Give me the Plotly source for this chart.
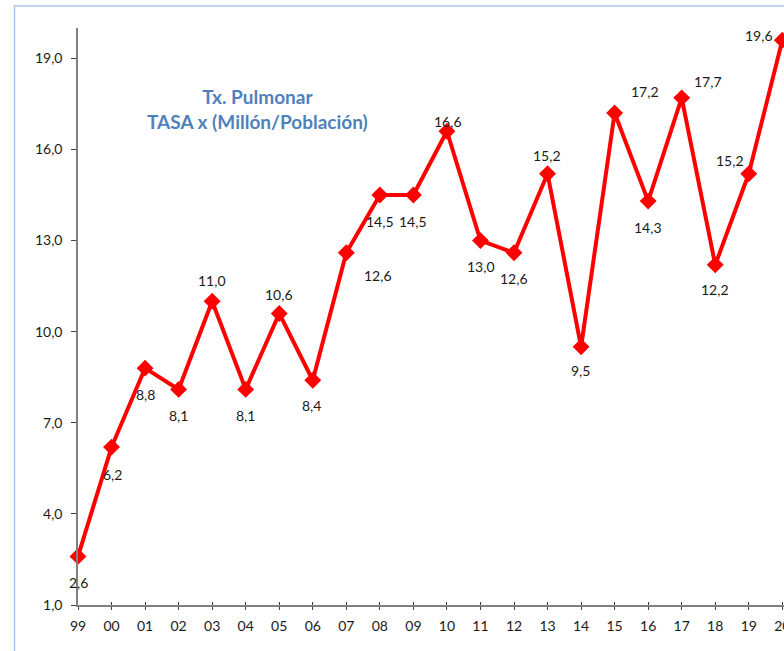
import plotly.graph_objects as go

# ---- data ----
years = ["99", "00", "01", "02", "03", "04", "05", "06", "07", "08", "09",
         "10", "11", "12", "13", "14", "15", "16", "17", "18", "19", "20"]
tasa = [2.6, 6.2, 8.8, 8.1, 11.0, 8.1, 10.6, 8.4, 12.6, 14.5, 14.5,
        16.6, 13.0, 12.6, 15.2, 9.5, 17.2, 14.3, 17.7, 12.2, 15.2, 19.6]
y_ticks = [1, 4, 7, 10, 13, 16, 19]
title_lines = ["Tx. Pulmonar", "TASA x (Millón/Población)"]

# label offsets in pixels (dx right, dy down) -- styling only
label_dx = [0, 1, 0, 0, 0, 0, 0, -1, 32, 0, 0, 1, 1, 0, -1, -1, 30, 0, 26, 0, -19, -23]
label_dy = [26, 27, 26, 26, -21, 26, -19, 25, 23, 26, 26, -10, 26, 26, -18, 24, -22, 26, -16, 25, -13, -5]

idx = list(range(len(years)))
FONT = "Lato"

fig = go.Figure()
fig.add_trace(go.Scatter(
    x=idx, y=tasa, mode="lines+markers",
    line=dict(color="#FF0000", width=4),
    marker=dict(symbol="diamond", size=13, color="#FF0000"),
    cliponaxis=False, hoverinfo="skip", showlegend=False,
))

for i, v in enumerate(tasa):
    fig.add_annotation(
        x=idx[i], y=v, xref="x", yref="y",
        text=f"{v:.1f}".replace(".", ","), showarrow=False,
        xshift=label_dx[i], yshift=-label_dy[i],
        font=dict(family=FONT, size=14, color="#1a1a1a"),
    )

fig.add_annotation(
    x=(257 - 78) / 706, y=(605 - 109) / 577, xref="paper", yref="paper",
    xanchor="center", yanchor="middle",
    text="<b>" + title_lines[0] + "</b><br><b>" + title_lines[1] + "</b>",
    showarrow=False, align="center",
    font=dict(family=FONT, size=19, color="#4F81BD"),
)

# outer light-blue frame
fig.add_shape(
    type="rect", xref="paper", yref="paper",
    x0=(14.5 - 78) / 706, x1=(820 - 78) / 706,
    y0=(605 - 700) / 577, y1=(605 - 6) / 577,
    line=dict(color="#A6CAEC", width=1.5), fillcolor="rgba(0,0,0,0)", layer="below",
)

fig.update_layout(
    width=784, height=651,
    margin=dict(l=78, r=0, t=28, b=46, autoexpand=False),
    paper_bgcolor="white", plot_bgcolor="white",
    separators=",.",
    font=dict(family=FONT, size=14, color="#1a1a1a"),
    xaxis=dict(
        range=[0, 21.05], tickmode="array", tickvals=idx, ticktext=years,
        showgrid=False, zeroline=False, showline=True, automargin=False,
        linecolor="#808080", linewidth=1.5,
        ticks="outside", ticklen=3, tickcolor="#404040", tickwidth=1,
        ticklabelstandoff=4, ticklabeloverflow="allow",
        tickfont=dict(family=FONT, size=14, color="#1a1a1a"),
    ),
    xaxis2=dict(
        overlaying="x", matches="x", anchor="y", range=[0, 21.05],
        tickmode="array", tickvals=idx, showticklabels=False, automargin=False,
        ticks="inside", ticklen=3, tickcolor="#404040", tickwidth=1,
        showgrid=False, zeroline=False, showline=False,
    ),
    yaxis=dict(
        range=[1, 20], tickmode="array", tickvals=y_ticks, tickformat=".1f",
        showgrid=False, zeroline=False, showline=True, automargin=False,
        linecolor="#808080", linewidth=1.5,
        ticks="outside", ticklen=5, tickcolor="#404040", tickwidth=1,
        ticklabelstandoff=6,
        tickfont=dict(family=FONT, size=14, color="#1a1a1a"),
    ),
)
# dummy invisible trace to make xaxis2 render
fig.add_trace(go.Scatter(x=[0], y=[1], xaxis="x2", yaxis="y", mode="markers",
                         marker=dict(opacity=0), hoverinfo="skip", showlegend=False))

fig.write_html("out.html", config={"displayModeBar": False},
               post_script="document.body.style.margin='0';document.body.style.overflow='hidden';")
